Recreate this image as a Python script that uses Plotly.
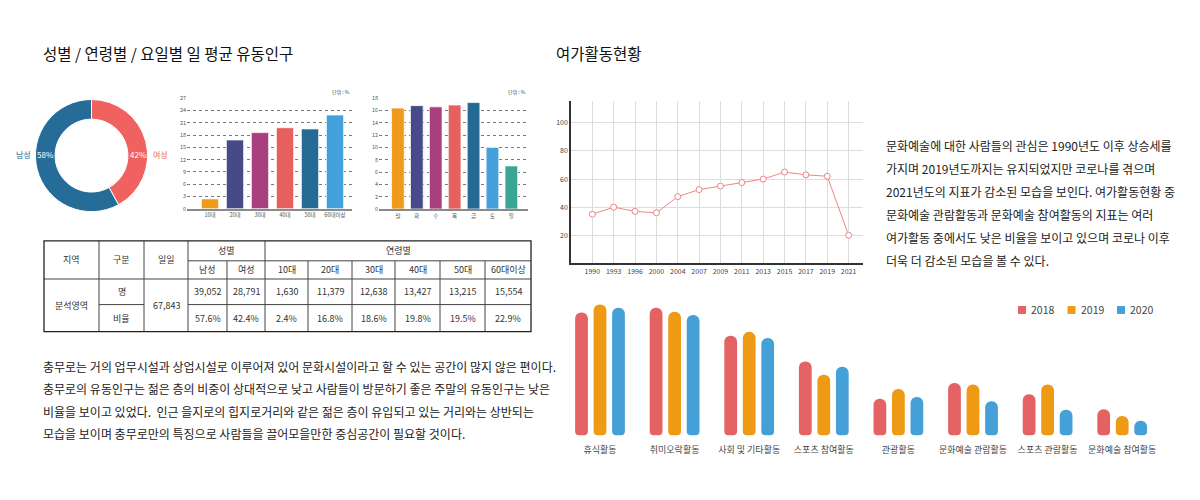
import plotly.graph_objects as go

# page body has an 8px default margin; the figure is sized to fit inside it
OFF = 8
W, H = 1200 - 2 * OFF, 500 - 2 * OFF
FONT = "Noto Sans CJK KR"


def px(x):
    return (x - OFF) / W


def py(y):
    return 1 - (y - OFF) / H


# ---------------- data ----------------
gender_labels = ["여성", "남성"]
gender_values = [42, 58]
gender_colors = ["#F0625F", "#256D98"]

age_labels = ["10대", "20대", "30대", "40대", "50대", "60대이상"]
age_values = [2.4, 16.8, 18.6, 19.8, 19.5, 22.9]
age_colors = ["#EF9A1A", "#464A88", "#A8407F", "#E5605E", "#256A95", "#44A1DB"]

day_labels = ["월", "화", "수", "목", "금", "토", "일"]
day_values = [16.4, 16.8, 16.6, 16.9, 17.3, 10.0, 7.0]
day_colors = ["#EF9A1A", "#464A88", "#A8407F", "#E5605E", "#256A95", "#44A1DB", "#3AA796"]

table_head_main = ["지역", "구분", "일일"]
table_group_heads = ["성별", "연령별"]
table_sub_heads = ["남성", "여성", "10대", "20대", "30대", "40대", "50대", "60대이상"]
table_region = "분석영역"
table_row_kinds = ["명", "비율"]
table_daily_total = 67843
table_counts = [39052, 28791, 1630, 11379, 12638, 13427, 13215, 15554]
table_ratios = [57.6, 42.4, 2.4, 16.8, 18.6, 19.8, 19.5, 22.9]

years = ["1990", "1993", "1996", "2000", "2004", "2007", "2009", "2011",
         "2013", "2015", "2017", "2019", "2021"]
interest = [35, 40, 37, 36, 47.5, 52.5, 55, 57.5, 60, 65, 63, 62, 20]

leisure_cats = ["휴식활동", "취미오락활동", "사회 및 기타활동", "스포츠 참여활동",
                "관광활동", "문화예술 관람활동", "스포츠 관람활동", "문화예술 참여활동"]
series_names = ["2018", "2019", "2020"]
v2018 = [78.7, 81.8, 62.9, 45.5, 20.2, 30.9, 23.3, 13.1]
v2019 = [84.0, 79.1, 65.5, 36.5, 26.7, 29.8, 29.8, 8.5]
v2020 = [81.8, 76.9, 61.3, 41.8, 21.3, 18.5, 12.7, 5.3]
series_values = [v2018, v2019, v2020]
series_colors = ["#E46264", "#EF9A15", "#45A0D8"]

left_text = [
    "충무로는 거의 업무시설과 상업시설로 이루어져 있어 문화시설이라고 할 수 있는 공간이 많지 않은 편이다.",
    "충무로의 유동인구는 젊은 층의 비중이 상대적으로 낮고 사람들이 방문하기 좋은 주말의 유동인구는 낮은",
    "비율을 보이고 있었다.  인근 을지로의 힙지로거리와 같은 젊은 층이 유입되고 있는 거리와는 상반되는",
    "모습을 보이며 충무로만의 특징으로 사람들을 끌어모을만한 중심공간이 필요할 것이다.",
]
right_text = [
    "문화예술에 대한 사람들의 관심은 1990년도 이후 상승세를",
    "가지며 2019년도까지는 유지되었지만 코로나를 겪으며",
    "2021년도의 지표가 감소된 모습을 보인다. 여가활동현황 중",
    "문화예술 관람활동과 문화예술 참여활동의 지표는 여러",
    "여가활동 중에서도 낮은 비율을 보이고 있으며 코로나 이후",
    "더욱 더 감소된 모습을 볼 수 있다.",
]

# ---------------- figure ----------------
fig = go.Figure()
annotations = []
shapes = []


def ann(x, y, text, size, color="#333", xanchor="center", yanchor="middle"):
    annotations.append(dict(x=px(x), y=py(y), xref="paper", yref="paper", text=text,
                            showarrow=False, xanchor=xanchor, yanchor=yanchor,
                            font=dict(size=size, color=color, family=FONT)))


# donut
fig.add_trace(go.Pie(labels=gender_labels, values=gender_values, hole=0.65, sort=False,
                     direction="clockwise", rotation=0, textinfo="none",
                     marker=dict(colors=gender_colors, line=dict(color="white", width=1)),
                     domain=dict(x=[px(34), px(149)], y=[py(211), py(97)]),
                     showlegend=False))
ann(45, 153, f"{gender_values[1]}%", 8, "white")
ann(138, 153, f"{gender_values[0]}%", 8, "white")
ann(23, 153, gender_labels[1], 8, gender_colors[1])
ann(160, 153, gender_labels[0], 8, gender_colors[0])

# age bars
fig.add_trace(go.Bar(x=age_labels, y=age_values, marker=dict(color=age_colors,
                     line=dict(color="rgba(255,255,255,0.7)", width=1)),
                     width=0.69, xaxis="x", yaxis="y", showlegend=False))
# weekday bars
fig.add_trace(go.Bar(x=day_labels, y=day_values, marker=dict(color=day_colors,
                     line=dict(color="rgba(255,255,255,0.7)", width=1)),
                     width=0.67, xaxis="x2", yaxis="y2", showlegend=False))
ann(352, 89, "단위 : %", 5, "#444", xanchor="right")
ann(528, 89, "단위 : %", 5, "#444", xanchor="right")

# line chart
fig.add_trace(go.Scatter(x=years, y=interest, mode="lines+markers", xaxis="x3", yaxis="y3",
                         line=dict(color="#EF8585", width=1),
                         marker=dict(symbol="circle", size=6, color="white",
                                     line=dict(color="#EF8585", width=1)),
                         showlegend=False))

# bottom rounded (pill) bars: a rounded foot under the base (drawn first),
# then the value bar with a rounded top drawn over it
CAP = 4.5
OVERLAP = 2.0
for name, vals, col in zip(series_names, series_values, series_colors):
    fig.add_trace(go.Bar(x=leisure_cats, y=[-(CAP + OVERLAP)] * len(vals),
                         base=[OVERLAP] * len(vals), offsetgroup=name,
                         marker=dict(color=col, cornerradius="50%", line=dict(width=0)),
                         xaxis="x4", yaxis="y4", showlegend=False, hoverinfo="skip"))
for name, vals, col in zip(series_names, series_values, series_colors):
    fig.add_trace(go.Bar(x=leisure_cats, y=vals, name=name, offsetgroup=name,
                         marker=dict(color=col, cornerradius="50%", line=dict(width=0)),
                         xaxis="x4", yaxis="y4", showlegend=False))

# manual legend
for i, (name, col) in enumerate(zip(series_names, series_colors)):
    x0 = 1018 + i * 49.5
    shapes.append(dict(type="rect", xref="paper", yref="paper", x0=px(x0), x1=px(x0 + 8),
                       y0=py(315), y1=py(307), fillcolor=col, line=dict(width=0)))
    ann(x0 + 11, 311, name, 10.5, "#444", xanchor="left")

# table
col_x = [44, 99, 144, 188, 227, 265, 308, 352, 395, 440, 485, 531]
row_y = [240.7, 261, 279.5, 305.5, 333]
LC = "#444"


def hline(x0, x1, y, w=1, c=LC):
    shapes.append(dict(type="line", xref="paper", yref="paper", x0=px(x0), x1=px(x1),
                       y0=py(y), y1=py(y), line=dict(color=c, width=w)))


def vline(x, y0, y1, w=1, c=LC):
    shapes.append(dict(type="line", xref="paper", yref="paper", x0=px(x), x1=px(x),
                       y0=py(y0), y1=py(y1), line=dict(color=c, width=w)))


for x in [col_x[1], col_x[2], col_x[3], col_x[5]]:
    vline(x, row_y[0], row_y[4])
for x in [col_x[4]] + col_x[6:11]:
    vline(x, row_y[1], row_y[4])
hline(col_x[3], col_x[11], row_y[1])
hline(col_x[0], col_x[11], row_y[2])
hline(col_x[1], col_x[2], row_y[3])
hline(col_x[3], col_x[11], row_y[3])
shapes.append(dict(type="rect", xref="paper", yref="paper", x0=px(col_x[0]), x1=px(col_x[11]),
                   y0=py(row_y[4]), y1=py(row_y[0]), line=dict(color="#222", width=1.3)))

TS = 9
hy = (row_y[0] + row_y[2]) / 2
for i, t in enumerate(table_head_main):
    ann((col_x[i] + col_x[i + 1]) / 2, hy, t, TS)
ann((col_x[3] + col_x[5]) / 2, (row_y[0] + row_y[1]) / 2, table_group_heads[0], TS)
ann((col_x[5] + col_x[11]) / 2, (row_y[0] + row_y[1]) / 2, table_group_heads[1], TS)
for j, t in enumerate(table_sub_heads):
    ann((col_x[3 + j] + col_x[4 + j]) / 2, (row_y[1] + row_y[2]) / 2, t, TS)
by = (row_y[2] + row_y[4]) / 2
ann((col_x[0] + col_x[1]) / 2, by, table_region, TS)
ann((col_x[2] + col_x[3]) / 2, by, f"{table_daily_total:,}", TS)
ann((col_x[1] + col_x[2]) / 2, (row_y[2] + row_y[3]) / 2, table_row_kinds[0], TS)
ann((col_x[1] + col_x[2]) / 2, (row_y[3] + row_y[4]) / 2, table_row_kinds[1], TS)
for j, (c, r) in enumerate(zip(table_counts, table_ratios)):
    cx = (col_x[3 + j] + col_x[4 + j]) / 2
    ann(cx, (row_y[2] + row_y[3]) / 2, f"{c:,}", TS)
    ann(cx, (row_y[3] + row_y[4]) / 2, f"{r}%", TS)

# titles and paragraphs
ann(41, 50, "성별 / 연령별 / 요일별 일 평균 유동인구", 15.5, "#111", xanchor="left")
ann(554, 50, "여가활동현황", 15.5, "#111", xanchor="left")
for i, t in enumerate(left_text):
    ann(41, 368 + i * 23, t, 12, "#222", xanchor="left")
for i, t in enumerate(right_text):
    ann(884, 144 + i * 23.3, t, 12, "#222", xanchor="left")

small_tick = dict(size=5.5, color="#555", family=FONT)
fig.update_layout(
    width=W, height=H, margin=dict(l=0, r=0, t=0, b=0),
    paper_bgcolor="white", plot_bgcolor="rgba(0,0,0,0)",
    font=dict(family=FONT, color="#333"),
    barmode="group", bargap=0.256, bargroupgap=0.31,
    annotations=annotations, shapes=shapes, showlegend=False,
    xaxis=dict(domain=[px(187), px(352)], anchor="y", type="category", range=[-0.92, 5.68],
               showline=True, linecolor="#8a8a8a", linewidth=2, ticks="", showgrid=False,
               tickfont=small_tick),
    yaxis=dict(domain=[py(208), py(95.7)], anchor="x", range=[0, 27], dtick=3, tick0=0,
               showgrid=True, gridcolor="#777", griddash="dot", gridwidth=0.8,
               zeroline=False, tickfont=small_tick, ticks=""),
    xaxis2=dict(domain=[px(379), px(528)], anchor="y2", type="category", range=[-1.0, 6.88],
                showline=True, linecolor="#8a8a8a", linewidth=2, ticks="", showgrid=False,
                tickfont=small_tick),
    yaxis2=dict(domain=[py(208.3), py(95.7)], anchor="x2", range=[0, 18], dtick=2, tick0=0,
                showgrid=True, gridcolor="#777", griddash="dot", gridwidth=0.8,
                zeroline=False, tickfont=small_tick, ticks=""),
    xaxis3=dict(domain=[px(571), px(862.7)], anchor="y3", type="category", range=[-1.0, 12.66],
                showline=True, linecolor="#333", linewidth=1.5, ticks="", showgrid=True,
                gridcolor="#dddddd", gridwidth=1, tickfont=dict(size=7, color="#444")),
    yaxis3=dict(domain=[py(263.6), py(98.3)], anchor="x3", range=[0, 115.7],
                tickvals=[20, 40, 60, 80, 100], showline=True, linecolor="#333", linewidth=1.5,
                showgrid=True, gridcolor="#dddddd", gridwidth=1, zeroline=False, ticks="",
                tickfont=dict(size=7, color="#444")),
    xaxis4=dict(domain=[px(562.7), px(1159.5)], anchor="y4", type="category", range=[-0.5, 7.5],
                showline=False, ticks="", showgrid=False, ticklabelstandoff=6,
                tickfont=dict(size=9, color="#444")),
    yaxis4=dict(domain=[py(440.5), py(281.5)], anchor="x4", range=[-6, 100], visible=False,
                showgrid=False, zeroline=False),
)

fig.write_html("out.html")
